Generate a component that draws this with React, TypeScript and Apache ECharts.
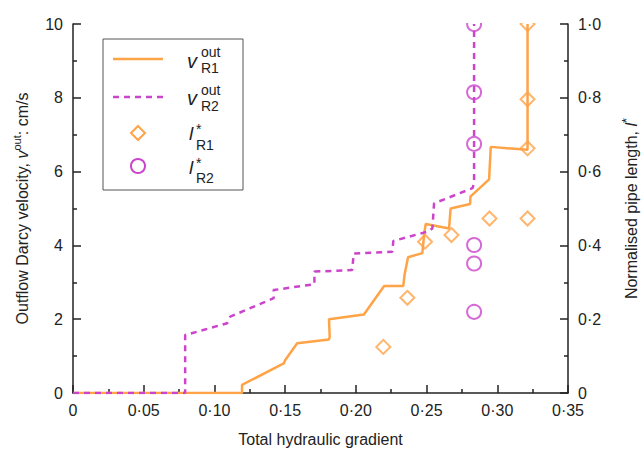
import React, { useEffect, useRef } from "react";
import * as echarts from "echarts";

// ---- data ----
const xTickValues = [0, 0.05, 0.1, 0.15, 0.2, 0.25, 0.3, 0.35];
const leftTicks = [0, 2, 4, 6, 8, 10];
const rightTicks = [0, 0.2, 0.4, 0.6, 0.8, 1.0];

// outflow velocity R1 (hydraulic gradient, cm/s)
const vR1: [number, number][] = [
  [0, 0], [0.1195, 0], [0.1195, 0.22], [0.149, 0.8], [0.15, 0.89], [0.1585, 1.35],
  [0.181, 1.45], [0.1815, 1.53], [0.181, 2.0], [0.2057, 2.13], [0.22, 2.9], [0.2335, 2.9],
  [0.2345, 3.22], [0.2369, 3.68], [0.247, 3.79], [0.2485, 4.37], [0.2494, 4.58],
  [0.2659, 4.46], [0.267, 5.0], [0.2808, 5.12], [0.281, 5.32], [0.2942, 5.79],
  [0.2954, 6.67], [0.3214, 6.59], [0.3214, 10],
];
// outflow velocity R2
const vR2: [number, number][] = [
  [0, 0], [0.0793, 0], [0.0793, 1.57], [0.109, 1.89], [0.1112, 2.07], [0.1419, 2.57],
  [0.1419, 2.79], [0.1707, 2.95], [0.1707, 3.29], [0.1974, 3.33], [0.1985, 3.78],
  [0.2258, 3.83], [0.2265, 4.12], [0.2505, 4.37], [0.2541, 4.46], [0.2553, 5.14],
  [0.2825, 5.55], [0.2836, 5.7], [0.2836, 10],
];
// normalised pipe length R1
const lR1: [number, number][] = [
  [0.2194, 0.125], [0.2364, 0.258], [0.2489, 0.41], [0.2676, 0.428], [0.2945, 0.473],
  [0.3214, 0.473], [0.3214, 0.663], [0.3214, 0.796], [0.3214, 1.0],
];
// normalised pipe length R2
const lR2: [number, number][] = [
  [0.2836, 0.22], [0.2836, 0.351], [0.2836, 0.401], [0.2836, 0.675], [0.2836, 0.815], [0.2836, 1.0],
];

const ORANGE = "#FFA347";
const MAGENTA = "#CC44CC";
const INK = "#222";
const FONT = "Arial, 'Liberation Sans', sans-serif";

const fmtX = (v: number) => (v === 0 ? "0" : v.toFixed(2).replace(".", "·"));
const fmtR = (v: number) => (v === 0 ? "0" : v.toFixed(1).replace(".", "·"));

export default function App() {
  const ref = useRef<HTMLDivElement>(null);
  useEffect(() => {
    if (!ref.current) return;
    const chart = echarts.init(ref.current, null, { renderer: "svg" });
    const axisLine = { show: true, lineStyle: { color: INK, width: 1.5 } };
    const axisTick = { show: true, inside: true, length: 8, lineStyle: { color: INK, width: 1.5 } };
    const minorTick = { show: true, splitNumber: 2, length: 4, lineStyle: { color: INK, width: 1.5 } };
    const label = { fontSize: 16, color: INK, fontFamily: FONT };
    const lg = 103, lt = 39;
    const t = (x: number, y: number, text: string, font: string) => ({
      type: "text", z: 61, x, y, style: { text, font: `${font} ${FONT}`, fill: INK, verticalAlign: "middle" },
    });
    chart.setOption({
      animation: false,
      textStyle: { fontFamily: FONT },
      grid: { left: 73, right: 76, top: 24, bottom: 62, containLabel: false, outerBoundsMode: "none" },
      xAxis: {
        type: "value", min: 0, max: 0.35, interval: 0.05,
        axisLine, axisTick, minorTick, splitLine: { show: false },
        axisLabel: { ...label, margin: 9, formatter: (v: number) => fmtX(v), customValues: xTickValues },
        name: "Total hydraulic gradient", nameLocation: "middle", nameGap: 38,
        nameTextStyle: { fontSize: 16, color: INK, fontFamily: FONT },
      },
      yAxis: [
        {
          type: "value", position: "left", min: 0, max: 10, interval: 2,
          axisLine, axisTick, minorTick, splitLine: { show: false },
          axisLabel: { ...label, margin: 10, customValues: leftTicks },
          name: "Outflow Darcy velocity, {v|v}{sup|out}: cm/s", nameLocation: "middle", nameGap: 40, nameRotate: 90,
          nameTextStyle: {
            fontSize: 16, color: INK, fontFamily: FONT, lineHeight: 22,
            rich: {
              v: { fontSize: 16, fontStyle: "italic", color: INK, fontFamily: FONT, lineHeight: 22 },
              sup: { fontSize: 11, color: INK, fontFamily: FONT, verticalAlign: "top", lineHeight: 12 },
            },
          },
        },
        {
          type: "value", position: "right", min: 0, max: 1, interval: 0.2,
          axisLine, axisTick, minorTick, splitLine: { show: false },
          axisLabel: { ...label, margin: 10, formatter: (v: number) => fmtR(v), customValues: rightTicks },
          name: "Normalised pipe length, {l|l}{sup|*}", nameLocation: "middle", nameGap: 52, nameRotate: 90,
          nameTextStyle: {
            fontSize: 16, color: INK, fontFamily: FONT, lineHeight: 22,
            rich: {
              l: { fontSize: 16, fontStyle: "italic", color: INK, fontFamily: FONT, lineHeight: 22 },
              sup: { fontSize: 13, color: INK, fontFamily: FONT, verticalAlign: "top", lineHeight: 12 },
            },
          },
        },
      ],
      series: [
        {
          type: "line", data: vR1, xAxisIndex: 0, yAxisIndex: 0, showSymbol: false, symbol: "none",
          lineStyle: { color: ORANGE, width: 2.5 }, z: 3,
        },
        {
          type: "line", data: vR2, xAxisIndex: 0, yAxisIndex: 0, showSymbol: false, symbol: "none",
          lineStyle: { color: MAGENTA, width: 2.5, type: [6, 5] }, z: 3,
        },
        {
          type: "scatter", data: lR1, xAxisIndex: 0, yAxisIndex: 1, symbol: "diamond", symbolSize: 14,
          itemStyle: { color: "rgba(0,0,0,0)", borderColor: ORANGE, borderWidth: 2 }, z: 4,
        },
        {
          type: "scatter", data: lR2, xAxisIndex: 0, yAxisIndex: 1, symbol: "circle", symbolSize: 14,
          itemStyle: { color: "rgba(0,0,0,0)", borderColor: MAGENTA, borderWidth: 2 }, z: 4,
        },
      ],
      graphic: [
        // cover above the plot so that markers at the top edge are clipped like the original
        { type: "rect", z: 50, shape: { x: 75, y: 0, width: 491, height: 23 }, style: { fill: "#fff" }, silent: true },
        // legend
        { type: "rect", z: 60, shape: { x: lg, y: lt, width: 140, height: 151 }, style: { fill: "#fff", stroke: "#555", lineWidth: 1 } },
        { type: "line", z: 61, shape: { x1: 113, y1: 59, x2: 163, y2: 59 }, style: { stroke: ORANGE, lineWidth: 2.5 } },
        { type: "line", z: 61, shape: { x1: 113, y1: 97, x2: 163, y2: 97 }, style: { stroke: MAGENTA, lineWidth: 2.5, lineDash: [6, 5] } },
        { type: "polygon", z: 61, shape: { points: [[138, 126], [145, 133], [138, 140], [131, 133]] }, style: { fill: "none", stroke: ORANGE, lineWidth: 2 } },
        { type: "circle", z: 61, shape: { cx: 138, cy: 166, r: 7 }, style: { fill: "none", stroke: MAGENTA, lineWidth: 2 } },
        t(187, 61, "v", "italic 20px"),
        t(201, 52, "out", "14px"),
        t(201, 68, "R1", "14px"),
        t(187, 98, "v", "italic 20px"),
        t(201, 90, "out", "14px"),
        t(201, 106, "R2", "14px"),
        t(189, 133, "l", "italic 19px"),
        t(196, 129, "*", "14px"),
        t(196, 145, "R1", "14px"),
        t(189, 167, "l", "italic 19px"),
        t(196, 163, "*", "14px"),
        t(196, 178, "R2", "14px"),
      ],
    });
    return () => chart.dispose();
  }, []);
  return <div ref={ref} style={{ position: "fixed", left: 0, top: 0, width: 644, height: 455, background: "#fff" }} />;
}
